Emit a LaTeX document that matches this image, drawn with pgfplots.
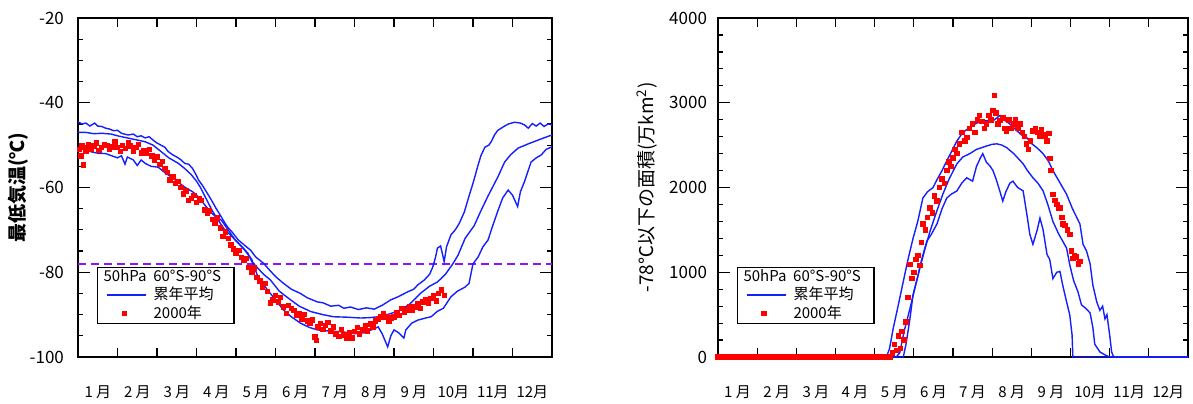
\documentclass[border=0pt]{standalone}
\usepackage{pgfplots}
\pgfplotsset{compat=1.18}
\usepackage{fontspec}
\setmainfont{Noto Sans CJK JP}

\definecolor{lineblue}{RGB}{20,30,255}
\definecolor{dotred}{RGB}{255,0,0}
\definecolor{limitviolet}{RGB}{140,20,255}

\pgfplotsset{
  ozonebase/.style={
    scale only axis,
    anchor=south west,
    height=169.5pt,
    xmin=0, xmax=12,
    xtick={1,2,3,4,5,6,7,8,9,10,11,12},
    xticklabels={1 月,2 月,3 月,4 月,5 月,6 月,7 月,8 月,9 月,10月,11月,12月},
    xticklabel style={font=\fontsize{7.5}{9}\selectfont, xshift=-9.8pt, yshift=-11pt},
    yticklabel style={font=\fontsize{8.5}{10}\selectfont},
    tick align=inside,
    major tick length=6pt,
    minor tick length=2.5pt,
    xtick style={/pgfplots/major tick length=4.5pt},
    axis line style={line width=0.9pt},
    tick style={line width=0.6pt, black},
    ylabel style={font=\fontsize{9.5}{11}\selectfont, anchor=center, rotate=0},
    legend style={
      anchor=south west,
      at={(axis description cs:0.04,0.097)},
      font=\fontsize{7.5}{8.5}\selectfont,
      draw=black, line width=0.6pt,
      inner xsep=4.5pt, inner ysep=0pt, row sep=-0.5pt, column sep=1.5pt,
      nodes={inner ysep=1pt}
    },
    legend cell align=left,
  },
  bluecurve/.style={lineblue, line width=0.7pt, no markers},
  bluekey/.style={lineblue, line width=0.7pt,
    legend image code/.code={\draw[##1] (0cm,0cm) -- (0.68cm,0cm);}},
  reddots/.style={only marks, mark=square*, mark size=1.1pt, dotred, mark options={draw=dotred, fill=dotred}},
}

\begin{document}
\begin{tikzpicture}
\useasboundingbox (0,0) rectangle (596.5pt,201.5pt);

% ---------------- left: minimum temperature ----------------
\begin{axis}[
  ozonebase,
  at={(39pt,23pt)},
  width=237pt,
  ymin=-100, ymax=-20,
  ytick={-100,-80,-60,-40,-20},
  yticklabels={-100,-80,-60,-40,-20},
  minor y tick num=3,
  yticklabel style={xshift=-3.5pt},
  ylabel={\bfseries 最低気温(℃)},
  ylabel style={at={(axis description cs:-0.125,0.5)}},
]
\addlegendimage{empty legend}
\addlegendentry{\hspace*{-25pt}50hPa\ \ 60°S-90°S}
\addlegendimage{bluekey}
\addlegendentry{累年平均}
\addlegendimage{reddots}
\addlegendentry{2000年}
% -78 degC threshold
\addplot[limitviolet, line width=0.9pt, dash pattern=on 4pt off 2.5pt, forget plot] coordinates {(0,-78) (12,-78)};
% climatological maximum
\addplot[bluecurve, forget plot] coordinates {
(0,-44.5) (0.1,-45) (0.2,-44.8) (0.3,-45.5) (0.42,-44.8) (0.5,-45.5) (0.6,-45.6) (0.7,-46) (0.8,-46.2) (0.9,-46.6)
(1.0,-46.5) (1.1,-47.2) (1.27,-47.6) (1.4,-47.4) (1.5,-48) (1.6,-47.8) (1.7,-48.3) (1.8,-48) (1.9,-48.8) (2.0,-49.5)
(2.1,-50) (2.2,-50.5) (2.28,-51.5) (2.4,-52.3) (2.5,-52.8) (2.6,-53.4) (2.7,-54.3) (2.8,-54.5) (2.9,-55.5) (3.0,-57.2)
(3.05,-58.2) (3.15,-59.5) (3.25,-61) (3.38,-63) (3.5,-65) (3.6,-66.5) (3.72,-68.4) (3.8,-69.5) (3.9,-70.5) (4.06,-72.4)
(4.2,-73.5) (4.37,-74.8) (4.5,-76.4) (4.7,-77.9) (4.85,-79.5) (5.0,-81) (5.2,-82.6) (5.4,-84) (5.63,-85) (5.8,-86)
(6.06,-87) (6.2,-87.2) (6.4,-88) (6.6,-87.8) (6.73,-88.5) (6.9,-88.2) (7.1,-88.8) (7.3,-88.4) (7.5,-88.7) (7.7,-87.8)
(7.92,-86.5) (8.1,-85.8) (8.35,-84.6) (8.5,-84) (8.6,-83) (8.77,-81.8) (8.9,-80.5) (8.98,-78.8) (9.05,-76.5) (9.1,-74.3)
(9.18,-73.8) (9.27,-77.5) (9.33,-74) (9.44,-71.2) (9.55,-70) (9.65,-68.5) (9.78,-65.8) (9.9,-62) (10.0,-59) (10.12,-55)
(10.2,-52.5) (10.3,-50.5) (10.4,-50) (10.46,-49.2) (10.55,-47.5) (10.63,-46.5) (10.8,-45.5) (10.9,-45) (11.05,-44.6)
(11.2,-44.8) (11.3,-45.2) (11.4,-46) (11.5,-44.9) (11.6,-45.5) (11.7,-44.8) (11.8,-45.6) (11.9,-45.0) (12.0,-45.2)
};
% climatological mean
\addplot[bluecurve, forget plot] coordinates {
(0,-47) (0.2,-47) (0.4,-47.3) (0.6,-47.2) (0.85,-47.4) (1.0,-47.8) (1.2,-48.2) (1.4,-48.6) (1.7,-49.2) (1.9,-50)
(2.1,-51.5) (2.3,-53) (2.54,-54.3) (2.7,-55.5) (2.87,-57) (3.0,-58.5) (3.1,-60) (3.22,-62.2) (3.4,-65.5) (3.55,-67.7)
(3.7,-69.8) (3.9,-71.6) (4.1,-73.5) (4.3,-75.5) (4.4,-77.5) (4.5,-78.5) (4.7,-80.5) (4.87,-81.8) (5.1,-84.5) (5.38,-86.5)
(5.6,-88) (5.9,-89.3) (6.2,-90) (6.47,-90.5) (6.8,-90.6) (7.16,-90.8) (7.4,-90.7) (7.6,-90.5) (7.9,-89.8) (8.17,-88.9)
(8.4,-87.5) (8.68,-84.9) (8.9,-83.3) (9.1,-82.3) (9.3,-80.5) (9.49,-78) (9.62,-76) (9.8,-72) (10.03,-69) (10.2,-65.5)
(10.38,-62) (10.63,-57.5) (10.8,-54) (10.95,-52.3) (11.14,-50.7) (11.4,-49.7) (11.65,-48.8) (11.85,-48.1) (12,-47.6)
};
% climatological minimum
\addplot[bluecurve, forget plot] coordinates {
(0,-50.7) (0.15,-51) (0.3,-51.5) (0.5,-51.9) (0.7,-52) (0.85,-52.5) (1.0,-53) (1.1,-52.5) (1.19,-54.5) (1.25,-52.8)
(1.4,-53.5) (1.5,-54.8) (1.6,-53.5) (1.7,-54.3) (1.85,-55) (2.03,-55.2) (2.2,-56.5) (2.36,-57.5) (2.5,-58.5) (2.7,-59.9)
(2.9,-61) (3.05,-62.2) (3.2,-64) (3.38,-66) (3.5,-67) (3.63,-67.7) (3.8,-70) (3.98,-72.4) (4.2,-74.5) (4.4,-77)
(4.55,-81) (4.8,-84.2) (5.0,-86.5) (5.2,-88.9) (5.4,-90.5) (5.63,-92) (5.85,-93) (6.06,-93.6) (6.4,-93.9) (6.73,-94.1)
(7.0,-94.5) (7.24,-94.3) (7.45,-93.5) (7.6,-92.9) (7.7,-94.5) (7.84,-97.6) (7.92,-95) (8.0,-93.6) (8.12,-94.3) (8.25,-95.5)
(8.3,-93.6) (8.45,-92) (8.6,-91.3) (8.8,-90.8) (8.94,-90.5) (9.1,-89.2) (9.25,-88.5) (9.44,-85.8) (9.6,-84.5) (9.8,-83.5)
(9.9,-82.6) (10.0,-78) (10.13,-76.4) (10.25,-74) (10.38,-72.4) (10.5,-69) (10.63,-65.5) (10.75,-62.5) (10.89,-60.6)
(11.0,-61.8) (11.13,-64.5) (11.2,-61) (11.3,-58.7) (11.47,-54) (11.6,-53) (11.73,-52.3) (11.85,-51) (12,-50.4)
};
% year 2000
\addplot[reddots, forget plot] coordinates {
(0.03,-51) (0.07,-52.5) (0.1,-50.2) (0.13,-54.7) (0.17,-50.5) (0.2,-51.5) (0.27,-49.8) (0.33,-51) (0.4,-50.2) (0.47,-49.5)
(0.53,-51.2) (0.6,-50.5) (0.67,-49.8) (0.73,-50) (0.8,-51) (0.87,-50.4) (0.93,-49.2) (1.0,-50.5) (1.07,-51.5) (1.13,-50)
(1.2,-50.8) (1.27,-49.5) (1.33,-50.2) (1.4,-51.5) (1.47,-50.5) (1.53,-49.8) (1.6,-51.8) (1.67,-51.2) (1.73,-52) (1.8,-51)
(1.87,-52.5) (1.93,-53.5) (2.0,-52.8) (2.07,-54.5) (2.13,-53.9) (2.2,-55.5) (2.27,-56.5) (2.33,-58.2) (2.4,-57.5) (2.47,-59)
(2.53,-58.5) (2.6,-60) (2.67,-61.5) (2.73,-60.8) (2.8,-63) (2.87,-62.5) (2.93,-61.8) (3.0,-63.5) (3.07,-62.5) (3.13,-63)
(3.2,-65.3) (3.27,-66) (3.33,-65.5) (3.4,-67.5) (3.47,-68.4) (3.53,-67.2) (3.6,-69.5) (3.67,-71.6) (3.73,-70.5) (3.8,-72)
(3.87,-73.5) (3.93,-74.5) (4.0,-75.5) (4.07,-74.8) (4.13,-76.5) (4.2,-77.2) (4.27,-76.8) (4.33,-78.8) (4.4,-80) (4.47,-79)
(4.53,-81.2) (4.6,-82) (4.67,-83.5) (4.73,-82.6) (4.8,-84.5) (4.87,-87.2) (4.93,-86.5) (5.0,-85.5) (5.07,-87) (5.13,-86)
(5.2,-88.2) (5.27,-89.7) (5.33,-87.8) (5.4,-88.5) (5.47,-89) (5.53,-90.2) (5.6,-89.7) (5.67,-91) (5.73,-90) (5.8,-91.5)
(5.87,-92) (5.93,-91.2) (6.0,-95.3) (6.03,-96.1) (6.07,-92.9) (6.13,-92) (6.2,-93.5) (6.27,-92.5) (6.33,-91.8) (6.4,-93.8)
(6.47,-92.9) (6.53,-94.5) (6.6,-95.2) (6.67,-93.5) (6.73,-94.8) (6.8,-95.5) (6.87,-94.3) (6.93,-95.5) (7.0,-94) (7.07,-93)
(7.13,-94.5) (7.2,-93.6) (7.27,-92.5) (7.33,-93.8) (7.4,-92.2) (7.47,-92.9) (7.53,-91.5) (7.6,-91) (7.67,-90.5) (7.73,-89.7)
(7.8,-90.5) (7.87,-91.5) (7.93,-90.8) (8.0,-90.5) (8.07,-89.5) (8.13,-90.2) (8.2,-88.5) (8.27,-89.5) (8.33,-88.9) (8.4,-88)
(8.47,-89) (8.53,-88.2) (8.6,-87.5) (8.67,-88.5) (8.73,-87) (8.8,-86.5) (8.87,-87.2) (8.93,-86.1) (9.0,-85.5) (9.07,-86.8)
(9.13,-85) (9.2,-84.2) (9.27,-85.5)
};
\end{axis}

% ---------------- right: area below -78 degC ----------------
\begin{axis}[
  ozonebase,
  at={(359pt,23pt)},
  width=235pt,
  ymin=0, ymax=4000,
  ytick={0,1000,2000,3000,4000},
  yticklabels={0,1000,2000,3000,4000},
  minor y tick num=4,
  yticklabel style={xshift=-2pt},
  ylabel={-78℃以下の面積(万km\textsuperscript{2})},
  ylabel style={at={(axis description cs:-0.151,0.5)}},
  clip=false,
]
\addlegendimage{empty legend}
\addlegendentry{\hspace*{-25pt}50hPa\ \ 60°S-90°S}
\addlegendimage{bluekey}
\addlegendentry{累年平均}
\addlegendimage{reddots}
\addlegendentry{2000年}
% climatological maximum
\addplot[bluecurve, forget plot] coordinates {
(0,0) (4.3,0) (4.38,100) (4.47,330) (4.55,500) (4.62,650) (4.73,890) (4.85,1150) (4.98,1400) (5.1,1600)
(5.23,1875) (5.35,1950) (5.49,2000) (5.6,2100) (5.72,2200) (5.84,2315) (5.97,2430) (6.1,2550) (6.25,2650) (6.43,2710)
(6.6,2760) (6.86,2790) (7.0,2780) (7.2,2850) (7.3,2800) (7.45,2750) (7.63,2670) (7.75,2620) (7.88,2590) (8.0,2520)
(8.14,2470) (8.3,2400) (8.45,2300) (8.55,2200) (8.7,2080) (8.9,1920) (9.05,1750) (9.24,1570) (9.32,1330) (9.41,1250)
(9.5,1100) (9.57,850) (9.67,650) (9.75,550) (9.82,600) (9.88,450) (9.93,500) (10.0,260) (10.05,60) (10.1,0) (12,0)
};
% climatological mean
\addplot[bluecurve, forget plot] coordinates {
(0,0) (4.55,0) (4.64,50) (4.75,300) (4.9,570) (5.02,800) (5.15,1045) (5.28,1270) (5.41,1480) (5.57,1700)
(5.74,1920) (5.9,2100) (6.1,2280) (6.25,2360) (6.43,2400) (6.6,2450) (6.86,2490) (7.0,2510) (7.12,2515) (7.25,2500)
(7.37,2470) (7.55,2400) (7.79,2280) (7.9,2200) (8.04,2115) (8.17,2050) (8.3,1960) (8.42,1800) (8.55,1600) (8.7,1450)
(8.9,1285) (8.98,1090) (9.08,900) (9.19,770) (9.28,615) (9.4,570) (9.5,520) (9.57,350) (9.62,150) (9.75,60) (9.9,20)
(10.0,0) (12,0)
};
% climatological minimum
\addplot[bluecurve, forget plot] coordinates {
(0,0) (4.73,0) (4.8,150) (4.9,450) (4.98,735) (5.1,950) (5.2,1150) (5.33,1365) (5.45,1450) (5.59,1570)
(5.72,1750) (5.84,1875) (5.95,1920) (6.1,1960) (6.22,2050) (6.35,2115) (6.5,2075) (6.6,2250) (6.7,2350) (6.76,2400)
(6.85,2300) (6.95,2250) (7.02,2200) (7.1,2100) (7.2,1950) (7.27,1840) (7.35,1950) (7.45,2050) (7.53,2075) (7.65,2000)
(7.79,1960) (7.88,1700) (7.96,1450) (8.04,1330) (8.15,1500) (8.22,1640) (8.3,1500) (8.4,1210) (8.47,1150) (8.55,925)
(8.65,1000) (8.73,1010) (8.8,850) (8.9,650) (8.98,500) (9.04,260) (9.06,0) (12,0)
};
% year 2000
\addplot[reddots, forget plot] coordinates {
(0.0,0) (0.1,0) (0.2,0) (0.3,0) (0.4,0) (0.5,0) (0.6,0) (0.7,0) (0.8,0) (0.9,0) (1.0,0) (1.1,0) (1.2,0) (1.3,0)
(1.4,0) (1.5,0) (1.6,0) (1.7,0) (1.8,0) (1.9,0) (2.0,0) (2.1,0) (2.2,0) (2.3,0) (2.4,0) (2.5,0) (2.6,0) (2.7,0)
(2.8,0) (2.9,0) (3.0,0) (3.1,0) (3.2,0) (3.3,0) (3.4,0) (3.5,0) (3.6,0) (3.7,0) (3.8,0) (3.9,0) (4.0,0) (4.1,0)
(4.2,0) (4.3,0) (4.4,0)
(4.45,50) (4.5,150) (4.55,80) (4.6,250) (4.65,100) (4.7,300) (4.75,200) (4.8,415) (4.85,700) (4.9,1090)
(4.95,925) (5.0,1000) (5.05,1150) (5.1,1200) (5.15,1080) (5.2,1350) (5.23,1570) (5.3,1500) (5.35,1650) (5.41,1760)
(5.47,1700) (5.53,1900) (5.59,1840) (5.66,2000) (5.72,2100) (5.78,2050) (5.84,2200) (5.9,2300) (5.95,2250) (6.0,2350)
(6.05,2450) (6.1,2400) (6.17,2515) (6.23,2650) (6.3,2550) (6.35,2590) (6.42,2700) (6.5,2750) (6.56,2650) (6.62,2800)
(6.68,2850) (6.74,2780) (6.8,2700) (6.86,2750) (6.92,2850) (6.97,2800) (7.02,2910) (7.05,3090) (7.1,2880) (7.15,2750)
(7.2,2790) (7.27,2820) (7.32,2700) (7.37,2670) (7.43,2800) (7.48,2700) (7.55,2750) (7.6,2800) (7.66,2700) (7.71,2750)
(7.77,2650) (7.82,2600) (7.88,2515) (7.93,2450) (7.98,2550) (8.04,2670) (8.1,2700) (8.15,2650) (8.2,2600) (8.25,2680)
(8.3,2630) (8.35,2600) (8.4,2550) (8.45,2640) (8.47,2340) (8.5,2200) (8.55,1920) (8.6,1850) (8.65,1800) (8.7,1750)
(8.73,1760) (8.78,1650) (8.81,1570) (8.86,1550) (8.92,1500) (8.98,1450) (9.02,1250) (9.06,1165) (9.1,1200) (9.15,1180)
(9.2,1100) (9.24,1130)
};
\end{axis}
\end{tikzpicture}
\end{document}
